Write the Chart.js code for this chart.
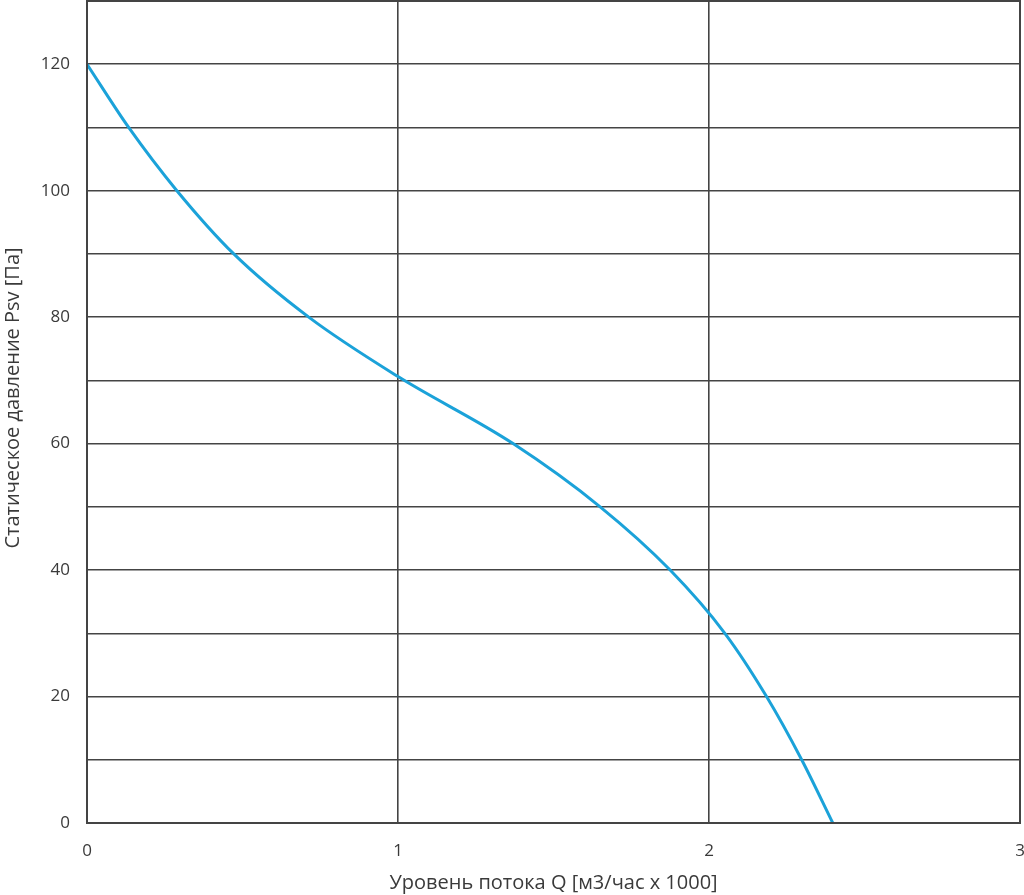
<!DOCTYPE html>
<html>
<head>
<meta charset="utf-8">
<script src="https://cdn.jsdelivr.net/npm/chart.js@4"></script>
<style>
html,body{margin:0;padding:0;background:#fff;}
#wrap{width:1024px;height:895px;position:relative;}
</style>
</head>
<body>
<div id="wrap"><canvas id="c" width="1024" height="895"></canvas></div>
<script>
const flowQ = [0, 0.134, 0.289, 0.472, 0.713, 1.0, 1.37, 1.65, 1.875, 2.051, 2.185, 2.298, 2.398];
const pressurePsv = [120, 110, 100, 90, 80, 70.6, 60, 50, 40, 30, 20, 10, 0];
const xTickLabels = ['0', '1', '2', '3'];
const yTickLabels = ['0', '20', '40', '60', '80', '100', '120'];
const xTitle = 'Уровень потока Q [м3/час x 1000]';
const yTitle = 'Статическое давление Psv [Па]';

const points = flowQ.map((q, i) => ({x: q, y: pressurePsv[i]}));
const gridColor = '#444444';
const textColor = '#3a3a3a';
const fontFamily = '"Open Sans", "Noto Sans", sans-serif';

new Chart(document.getElementById('c'), {
  type: 'scatter',
  data: {
    datasets: [{
      data: points,
      showLine: true,
      borderColor: '#1ba2d9',
      borderWidth: 3,
      pointRadius: 0,
      cubicInterpolationMode: 'monotone',
      fill: false
    }]
  },
  options: {
    responsive: false,
    animation: false,
    layout: {padding: {top: 1, right: 4, left: 0, bottom: 0}},
    plugins: {legend: {display: false}, tooltip: {enabled: false}},
    scales: {
      x: {
        type: 'linear',
        min: 0, max: 3,
        afterFit: s => { s.height = 72; s.paddingLeft = 0; s.paddingRight = 0; },
        ticks: {
          stepSize: 1,
          padding: 18,
          color: textColor,
          font: {family: fontFamily, size: 17},
          callback: v => xTickLabels.includes(String(v)) ? String(v) : ''
        },
        grid: {color: gridColor, lineWidth: 1.6, drawTicks: false},
        border: {color: gridColor, width: 2},
        title: {display: true, text: xTitle, color: textColor, font: {family: fontFamily, size: 20}, padding: {top: 0, bottom: 0}}
      },
      y: {
        type: 'linear',
        min: 0, max: 130,
        afterFit: s => { s.width = 87; s.paddingTop = 0; s.paddingBottom = 0; },
        ticks: {
          stepSize: 10,
          padding: 17,
          color: textColor,
          font: {family: fontFamily, size: 17},
          callback: v => yTickLabels.includes(String(v)) ? String(v) : ''
        },
        grid: {color: gridColor, lineWidth: 1.6, drawTicks: false},
        border: {color: gridColor, width: 2},
        title: {display: false}
      }
    }
  },
  plugins: [{
    id: 'frame',
    afterDraw(chart) {
      const {ctx, chartArea: a} = chart;
      ctx.save();
      ctx.strokeStyle = gridColor;
      ctx.lineWidth = 2;
      ctx.strokeRect(a.left, a.top, a.right - a.left, a.bottom - a.top);
      ctx.translate(13, 398);
      ctx.rotate(-Math.PI / 2);
      ctx.fillStyle = textColor;
      ctx.font = '20px ' + fontFamily;
      ctx.textAlign = 'center';
      ctx.textBaseline = 'middle';
      ctx.fillText(yTitle, 0, 0);
      ctx.restore();
    }
  }]
});
</script>
</body>
</html>
